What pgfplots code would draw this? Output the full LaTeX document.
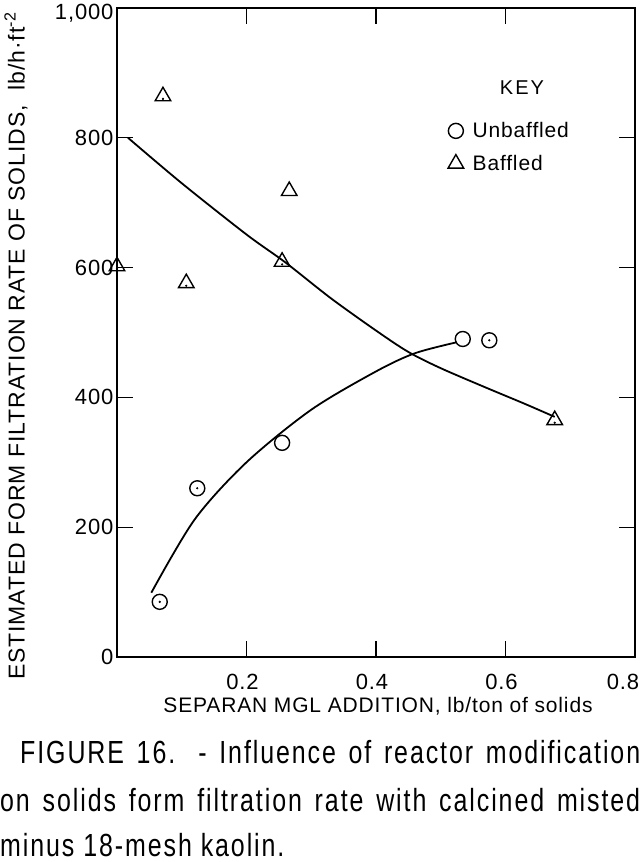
\documentclass[border=0pt]{standalone}
\usepackage{fontspec}
\setmainfont{Liberation Sans}
\newfontfamily\spaced[LetterSpace=4]{Liberation Sans}
\newfontfamily\keyfont[LetterSpace=10]{Liberation Sans}
\newfontfamily\capfont[FakeStretch=0.78,LetterSpace=6]{Liberation Sans}
\usepackage{pgfplots}
\pgfplotsset{compat=1.18}
\begin{document}
\begin{tikzpicture}
\path[use as bounding box] (-117pt,-205pt) rectangle (527pt,657pt);
\begin{axis}[
  name=ax, at={(0,0)}, anchor=south west,
  scale only axis, width=518pt, height=649pt,
  xmin=0, xmax=0.8, ymin=0, ymax=1000,
  xtick={0.2,0.4,0.6,0.8}, xticklabels={0.2,0.4,0.6,{0.8\hspace*{16pt}}},
  ytick={0,200,400,600,800,1000}, yticklabels={0,200,400,600,800,{\raisebox{-12pt}[0pt][0pt]{1,000}}},
  tick align=inside, major tick length=16pt,
  axis line style={line width=2pt},
  tick style={line width=1.2pt, black},
  clip=false,
  /pgf/number format/assume math mode=true,
  ticklabel style={font=\spaced\fontsize{22}{26}\selectfont},
  xticklabel style={yshift=-14pt, xshift=-4pt},
  legend style={draw=none, fill=none, at={(rel axis cs:0.633,0.83)}, anchor=north west,
    font=\spaced\fontsize{21}{25}\selectfont, row sep=12pt},
  legend cell align=left,
]
% fitted curves
\addplot[smooth, line width=1.8pt, forget plot] coordinates {
 (0.053,99) (0.12,212) (0.2,300) (0.3,381) (0.4,440) (0.46,468) (0.525,485)};
\addplot[smooth, line width=1.8pt, forget plot] coordinates {
 (0.017,800) (0.1,730) (0.2,651) (0.26,608) (0.33,553) (0.4,503) (0.45,470) (0.5,445) (0.57,415) (0.63,390) (0.676,370)};
% data
\addplot[only marks, mark=o, mark size=7.5pt, mark options={line width=1.4pt}] coordinates {
 (0.066,85) (0.124,260) (0.255,330) (0.534,490) (0.575,488)};
\addplot[only marks, mark=triangle, mark size=9pt, mark options={line width=1.4pt}] coordinates {
 (0.071,864) (0.266,718) (0.255,609) (0.0,602) (0.107,576) (0.676,365)};
\addplot[only marks, mark=*, mark size=0.9pt, forget plot] coordinates {
 (0.066,85) (0.124,260) (0.575,488)};
\addplot[only marks, mark=*, mark size=0.9pt, forget plot] coordinates {
 (0.071,860) (0.255,605) (0.0,598) (0.107,572) (0.676,361)};
\legend{\hspace*{7pt}Unbaffled, \hspace*{7pt}Baffled}
\node[font=\keyfont\fontsize{20}{24}\selectfont] at (axis cs:0.6255,878) {KEY};
\end{axis}
\node[rotate=90, font=\spaced\fontsize{23}{27}\selectfont] at (-101pt,311pt)
  {ESTIMATED FORM FILTRATION RATE OF SOLIDS,\ \ lb/h\textperiodcentered ft\textsuperscript{-2}};
\node[font=\spaced\fontsize{21}{25}\selectfont] at (261pt,-49pt)
  {SEPARAN MGL ADDITION, lb/ton of solids};
\node[anchor=west, inner sep=0pt, font=\capfont\fontsize{32}{36}\selectfont] at (-97pt,-95pt)
  {\makebox[620pt][s]{FIGURE 16. - Influence of reactor modification}};
\node[anchor=west, inner sep=0pt, font=\capfont\fontsize{32}{36}\selectfont] at (-117pt,-143pt)
  {\makebox[640pt][s]{on solids form filtration rate with calcined misted}};
\node[anchor=west, inner sep=0pt, font=\capfont\fontsize{32}{36}\selectfont] at (-117pt,-188pt)
  {minus 18-mesh kaolin.};
\end{tikzpicture}
\end{document}
